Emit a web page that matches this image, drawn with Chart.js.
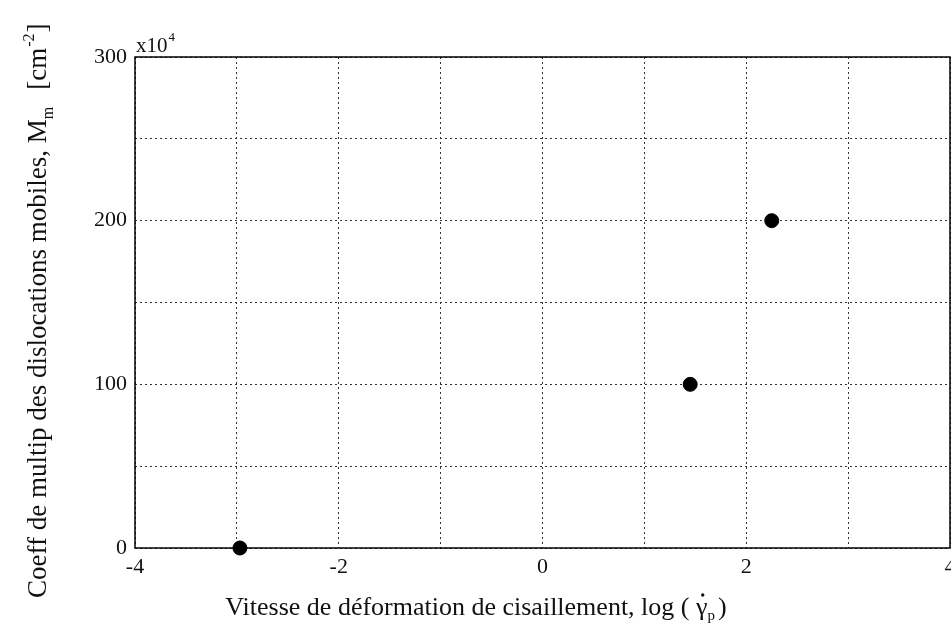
<!DOCTYPE html>
<html>
<head>
<meta charset="utf-8">
<script src="https://cdn.jsdelivr.net/npm/chart.js@4/dist/chart.umd.min.js"></script>
<style>
  html, body { margin: 0; padding: 0; background: #fff; }
  #plot { display: block; }
</style>
</head>
<body>
<canvas id="plot" width="951" height="637"></canvas>
<script>
// mesures : log de la vitesse de cisaillement -> coefficient Mm (x1e4 cm^-2)
const logRate = [-2.97, 1.45, 2.25];
const multCoeff = [0, 100, 200];
const xTickLabels = [-4, -2, 0, 2, 4];
const yTickLabels = [0, 100, 200, 300];

const serif = '"Liberation Serif", "DejaVu Serif", serif';

const points = logRate.map((x, i) => ({ x: x, y: multCoeff[i] }));

// cadre + titres des axes dessines a la main (indices, point au-dessus de gamma)
const decorations = {
    id: 'decorations',
    afterDraw(chart) {
        const ctx = chart.ctx;
        const a = chart.chartArea;
        ctx.save();
        ctx.strokeStyle = '#000';
        ctx.lineWidth = 1.5;
        ctx.strokeRect(a.left, a.top, a.right - a.left, a.bottom - a.top);

        ctx.fillStyle = '#111';
        // facteur d'echelle
        ctx.font = '21px ' + serif;
        ctx.textBaseline = 'alphabetic';
        ctx.fillText('x10', a.left + 1, a.top - 5);
        let w = ctx.measureText('x10').width;
        ctx.font = '13px ' + serif;
        ctx.fillText('4', a.left + 1 + w + 1, a.top - 16);

        // titre axe x
        ctx.font = '26px ' + serif;
        const main = 'Vitesse de déformation de cisaillement, log ( ';
        const mw = ctx.measureText(main).width;
        const gw = ctx.measureText('γ').width;
        ctx.font = '15px ' + serif;
        const pw = ctx.measureText('p').width;
        ctx.font = '26px ' + serif;
        const cw = ctx.measureText(')').width;
        const total = mw + gw + pw + 3 + cw;
        let x0 = 476 - total / 2;
        const yb = 615;
        ctx.fillText(main, x0, yb);
        ctx.fillText('γ', x0 + mw, yb);
        ctx.beginPath();
        ctx.arc(x0 + mw + gw / 2 + 1, yb - 20, 1.7, 0, Math.PI * 2);
        ctx.fill();
        ctx.font = '15px ' + serif;
        ctx.fillText('p', x0 + mw + gw, yb + 5);
        ctx.font = '26px ' + serif;
        ctx.fillText(')', x0 + mw + gw + pw + 3, yb);

        // titre axe y (vertical)
        ctx.translate(46, 598);
        ctx.rotate(-Math.PI / 2);
        ctx.font = '27px ' + serif;
        const t1 = 'Coeff de multip des dislocations mobiles, M';
        ctx.fillText(t1, 0, 0);
        let px = ctx.measureText(t1).width;
        ctx.font = '16px ' + serif;
        ctx.fillText('m', px, 7);
        px += ctx.measureText('m').width + 17;
        ctx.font = '27px ' + serif;
        ctx.fillText('[cm', px, 0);
        px += ctx.measureText('[cm').width;
        ctx.font = '16px ' + serif;
        ctx.fillText('-2', px + 1, -12);
        px += ctx.measureText('-2').width + 2;
        ctx.font = '27px ' + serif;
        ctx.fillText(']', px, 0);
        ctx.restore();
    }
};

new Chart(document.getElementById('plot'), {
    type: 'scatter',
    data: {
        datasets: [{
            data: points,
            backgroundColor: '#000',
            borderColor: '#000',
            pointRadius: 7,
            pointHoverRadius: 7,
            clip: false
        }]
    },
    options: {
        responsive: false,
        animation: false,
        // bord droit du cadre colle au bord de la page, le "4" est coupe
        layout: { autoPadding: false, padding: { top: 57, right: 1, left: 0, bottom: 0 } },
        plugins: {
            legend: { display: false },
            tooltip: { enabled: false }
        },
        scales: {
            x: {
                type: 'linear',
                min: -4,
                max: 4,
                afterFit: (s) => {
                    s.height = 89;
                    s.paddingLeft = 0;
                    s.paddingRight = 0;
                },
                grid: {
                    color: '#333',
                    lineWidth: 1,
                    drawTicks: false
                },
                border: { display: false, dash: [2, 3] },
                ticks: {
                    stepSize: 1,
                    padding: 6,
                    color: '#111',
                    font: { family: serif, size: 22 },
                    maxRotation: 0,
                    autoSkip: false,
                    callback: (v) => xTickLabels.includes(v) ? String(v) : ''
                }
            },
            y: {
                min: 0,
                max: 300,
                afterFit: (s) => {
                    s.width = 135;
                    s.paddingTop = 0;
                    s.paddingBottom = 0;
                },
                grid: {
                    color: '#333',
                    lineWidth: 1,
                    drawTicks: false
                },
                border: { display: false, dash: [2, 3] },
                ticks: {
                    stepSize: 50,
                    padding: 8,
                    color: '#111',
                    font: { family: serif, size: 22 },
                    callback: (v) => yTickLabels.includes(v) ? String(v) : ''
                }
            }
        }
    },
    plugins: [decorations]
});
</script>
</body>
</html>
